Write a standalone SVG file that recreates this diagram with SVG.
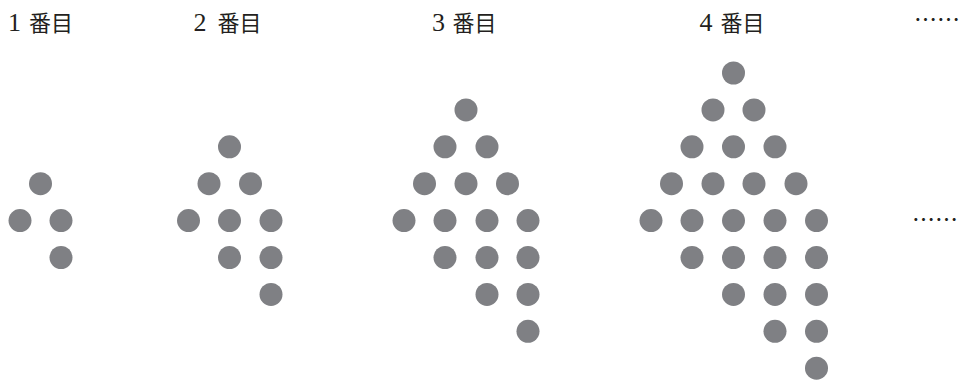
<svg xmlns="http://www.w3.org/2000/svg" width="970" height="382" viewBox="0 0 970 382">
<style>
.lbl{font-family:"Liberation Serif","Noto Sans CJK JP",serif;font-size:22px;fill:#231f20}
.num{font-size:26px}
.dot{fill:#7f8084}
.ell{font-family:"Noto Sans CJK JP",sans-serif;font-size:23px;fill:#231f20}
</style>
<rect width="970" height="382" fill="#ffffff"/>
<g id="labels">
<text class="lbl" x="8" y="30.5"><tspan class="num">1</tspan><tspan x="29">番目</tspan></text>
<text class="lbl" x="193.5" y="30.5"><tspan class="num">2</tspan><tspan x="217.5">番目</tspan></text>
<text class="lbl" x="432" y="30.5"><tspan class="num">3</tspan><tspan x="452.5">番目</tspan></text>
<text class="lbl" x="699.5" y="30.5"><tspan class="num">4</tspan><tspan x="720.5">番目</tspan></text>
<text class="ell" x="914" y="28">……</text>
<text class="ell" x="912" y="228">……</text>
</g>
<g id="fig1">
<circle class="dot" cx="40.5" cy="183.7" r="11.5"/>
<circle class="dot" cx="20" cy="220.6" r="11.5"/>
<circle class="dot" cx="61" cy="220.6" r="11.5"/>
<circle class="dot" cx="61" cy="257.5" r="11.5"/>
</g>
<g id="fig2">
<circle class="dot" cx="229.5" cy="146.8" r="11.5"/>
<circle class="dot" cx="209" cy="183.7" r="11.5"/>
<circle class="dot" cx="250.5" cy="183.7" r="11.5"/>
<circle class="dot" cx="188.5" cy="220.6" r="11.5"/>
<circle class="dot" cx="229.5" cy="220.6" r="11.5"/>
<circle class="dot" cx="271" cy="220.6" r="11.5"/>
<circle class="dot" cx="229.5" cy="257.5" r="11.5"/>
<circle class="dot" cx="271" cy="257.5" r="11.5"/>
<circle class="dot" cx="271" cy="294.4" r="11.5"/>
</g>
<g id="fig3">
<circle class="dot" cx="466" cy="109.9" r="11.5"/>
<circle class="dot" cx="445" cy="146.8" r="11.5"/>
<circle class="dot" cx="487" cy="146.8" r="11.5"/>
<circle class="dot" cx="424.5" cy="183.7" r="11.5"/>
<circle class="dot" cx="466" cy="183.7" r="11.5"/>
<circle class="dot" cx="507.5" cy="183.7" r="11.5"/>
<circle class="dot" cx="404" cy="220.6" r="11.5"/>
<circle class="dot" cx="445" cy="220.6" r="11.5"/>
<circle class="dot" cx="487" cy="220.6" r="11.5"/>
<circle class="dot" cx="528" cy="220.6" r="11.5"/>
<circle class="dot" cx="445" cy="257.5" r="11.5"/>
<circle class="dot" cx="487" cy="257.5" r="11.5"/>
<circle class="dot" cx="528" cy="257.5" r="11.5"/>
<circle class="dot" cx="487" cy="294.4" r="11.5"/>
<circle class="dot" cx="528" cy="294.4" r="11.5"/>
<circle class="dot" cx="528" cy="331.3" r="11.5"/>
</g>
<g id="fig4">
<circle class="dot" cx="733.5" cy="73" r="11.5"/>
<circle class="dot" cx="713" cy="109.9" r="11.5"/>
<circle class="dot" cx="754" cy="109.9" r="11.5"/>
<circle class="dot" cx="692" cy="146.8" r="11.5"/>
<circle class="dot" cx="733.5" cy="146.8" r="11.5"/>
<circle class="dot" cx="775" cy="146.8" r="11.5"/>
<circle class="dot" cx="671.5" cy="183.7" r="11.5"/>
<circle class="dot" cx="713" cy="183.7" r="11.5"/>
<circle class="dot" cx="754" cy="183.7" r="11.5"/>
<circle class="dot" cx="796" cy="183.7" r="11.5"/>
<circle class="dot" cx="651" cy="220.6" r="11.5"/>
<circle class="dot" cx="692" cy="220.6" r="11.5"/>
<circle class="dot" cx="733.5" cy="220.6" r="11.5"/>
<circle class="dot" cx="775" cy="220.6" r="11.5"/>
<circle class="dot" cx="816.5" cy="220.6" r="11.5"/>
<circle class="dot" cx="692" cy="257.5" r="11.5"/>
<circle class="dot" cx="733.5" cy="257.5" r="11.5"/>
<circle class="dot" cx="775" cy="257.5" r="11.5"/>
<circle class="dot" cx="816.5" cy="257.5" r="11.5"/>
<circle class="dot" cx="733.5" cy="294.4" r="11.5"/>
<circle class="dot" cx="775" cy="294.4" r="11.5"/>
<circle class="dot" cx="816.5" cy="294.4" r="11.5"/>
<circle class="dot" cx="775" cy="331.3" r="11.5"/>
<circle class="dot" cx="816.5" cy="331.3" r="11.5"/>
<circle class="dot" cx="816.5" cy="368.2" r="11.5"/>
</g>
</svg>
